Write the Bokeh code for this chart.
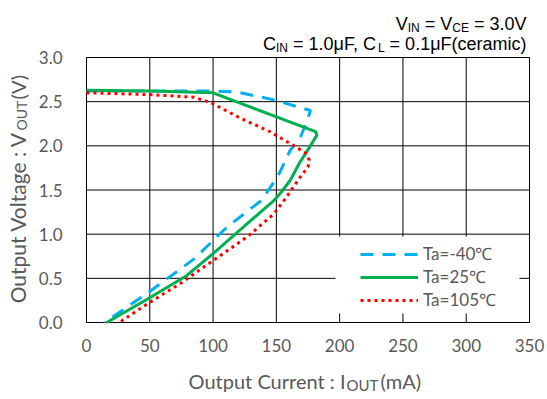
import math
from bokeh.plotting import figure
from bokeh.models import Range1d, FixedTicker, Label, BoxAnnotation
from bokeh.embed import file_html
from bokeh.resources import INLINE

# ---------------- data ----------------
x_ticks = [0, 50, 100, 150, 200, 250, 300, 350]
y_ticks = [0.0, 0.5, 1.0, 1.5, 2.0, 2.5, 3.0]
series_labels = ["Ta=-40\u2103", "Ta=25\u2103", "Ta=105\u2103"]

iout_m40 = [0, 50, 100, 119, 148, 177, 174, 169, 161, 151, 138, 111, 85, 48, 14]
vout_m40 = [2.62, 2.62, 2.62, 2.61, 2.52, 2.40, 2.27, 2.10, 1.95, 1.65, 1.38, 1.08, 0.72, 0.33, 0.0]

iout_25 = [0, 50, 100, 181, 182, 176, 168, 161, 153, 148, 127, 100, 79, 50, 16]
vout_25 = [2.63, 2.62, 2.60, 2.16, 2.12, 1.98, 1.80, 1.61, 1.46, 1.38, 1.12, 0.78, 0.53, 0.28, 0.0]

iout_105 = [0, 50, 85, 98, 122, 145, 164, 173, 176, 175, 169, 158, 148, 127, 100, 74, 48, 26]
vout_105 = [2.60, 2.58, 2.55, 2.49, 2.31, 2.16, 2.00, 1.92, 1.84, 1.76, 1.65, 1.42, 1.23, 0.97, 0.70, 0.44, 0.21, 0.0]

title_line1 = [("V", False), ("IN", True), (" = V", False), ("CE", True), (" = 3.0V", False)]
title_line2 = [("C", False), ("IN", True), (" = 1.0\u03bcF, C", False), ("L", True),
               (" = 0.1\u03bcF(ceramic)", False)]

# ---------------- layout constants (canvas pixels) ----------------
W, H = 547, 399
FL, FR, FT, FB = 86, 529, 57, 322   # edges of the chart area
TICK_FONT = "Lato"
TITLE_FONT = "Liberation Sans"
GRAY = "#595959"

x0, x1 = x_ticks[0], x_ticks[-1]
y0, y1 = y_ticks[0], y_ticks[-1]
kx = (FR - FL) / (x1 - x0)   # px per data unit
ky = (FB - FT) / (y1 - y0)
x_range = Range1d(x0 - FL / kx, x1 + (W - FR) / kx)
y_range = Range1d(y0 - (H - FB) / ky, y1 + FT / ky)

# frame covers the whole canvas so that every text can live inside it
p = figure(width=W, height=H, x_range=x_range, y_range=y_range,
           output_backend="svg", toolbar_location=None,
           min_border=0, min_border_left=0, min_border_right=0,
           min_border_top=0, min_border_bottom=0)
p.title.visible = False
p.background_fill_color = "white"
p.border_fill_color = "white"
p.outline_line_color = None
p.grid.visible = False

p.xaxis.ticker = FixedTicker(ticks=x_ticks)
p.yaxis.ticker = FixedTicker(ticks=y_ticks)
p.xaxis.fixed_location = y0
p.yaxis.fixed_location = x0
p.xaxis.bounds = (x0, x1)
p.yaxis.bounds = (y0, y1)
p.yaxis.major_label_overrides = {v: f"{v:.1f}" for v in y_ticks}
p.xaxis.major_label_overrides = {v: f"{v}" for v in x_ticks}
for ax in (p.xaxis, p.yaxis):
    ax.axis_line_color = None
    ax.major_tick_line_color = None
    ax.minor_tick_line_color = None
    ax.major_tick_in = 0
    ax.major_tick_out = 0
    ax.major_label_text_font = TICK_FONT
    ax.major_label_text_font_size = "17px"
    ax.major_label_text_color = GRAY
p.yaxis.major_label_standoff = 24
p.xaxis.major_label_standoff = 16

# grid lines (also form the chart border), taken from the tick arrays
p.segment(x0=x_ticks, y0=[y0] * len(x_ticks), x1=x_ticks, y1=[y1] * len(x_ticks),
          line_color="black", line_width=1)
p.segment(x0=[x0] * len(y_ticks), y0=y_ticks, x1=[x1] * len(y_ticks), y1=y_ticks,
          line_color="black", line_width=1)

# legend background box (white, hides grid)
p.add_layout(BoxAnnotation(left=335, right=519, top=H - 236, bottom=H - 313,
                           left_units="screen", right_units="screen",
                           top_units="screen", bottom_units="screen",
                           fill_color="white", fill_alpha=1, line_alpha=0))

p.line(iout_m40, vout_m40, line_color="#00B0F0", line_width=3, line_dash="13 9",
       legend_label=series_labels[0])
p.line(iout_25, vout_25, line_color="#00B050", line_width=3, line_join="round",
       legend_label=series_labels[1])
p.line(iout_105, vout_105, line_color="#FF0000", line_width=3, line_dash="3 4",
       legend_label=series_labels[2])

lg = p.legend[0]
lg.location = (360, H - 311)
lg.padding = 0
lg.margin = 0
lg.spacing = 0
lg.glyph_width = 58
lg.glyph_height = 20
lg.label_height = 20
lg.label_standoff = 5
lg.background_fill_alpha = 0
lg.border_line_alpha = 0
lg.label_text_font = TICK_FONT
lg.label_text_font_size = "17px"
lg.label_text_color = GRAY


def put(text, X, Y, size, font, color, angle=0.0, align="left"):
    """Place text with its anchor on the alphabetic baseline at canvas pixel (X, Y)."""
    p.add_layout(Label(x=X, y=H - Y, x_units="screen", y_units="screen",
                       text=text, text_font=font, text_font_size=size,
                       text_color=color, text_align=align,
                       text_baseline="alphabetic", angle=angle))


# Arial / Liberation Sans advance widths (1/1000 em) for chaining title pieces
ARIAL = {' ': 278, '=': 584, '.': 278, ',': 278, 'V': 667, 'I': 278, 'N': 722, 'C': 722,
         'E': 667, 'L': 556, 'F': 611, '\u03bc': 576, '(': 333, ')': 333, 'c': 500,
         'e': 556, 'r': 333, 'a': 556, 'm': 833, 'i': 222}


def aw(t, size):
    return sum(ARIAL.get(ch, 556) for ch in t) * size / 1000.0


def title_line(pieces, right, base, size=18, sub_size=12, sub_drop=4):
    total = sum(aw(t, sub_size if s else size) for t, s in pieces)
    x = right - total
    for t, s in pieces:
        sz = sub_size if s else size
        lead = len(t) - len(t.lstrip(" "))
        x += aw(" " * lead, sz)
        body = t.lstrip(" ")
        put(body, x, base + (sub_drop if s else 0), f"{sz}px", TITLE_FONT, "black")
        x += aw(body, sz)


title_line(title_line1, 526, 23.5)
title_line(title_line2, 526, 43.5)

# x axis label
put("Output Current : I", 345, 380, "20px", TICK_FONT, GRAY, align="right")
put("OUT", 346, 384, "15px", TICK_FONT, GRAY)
put("(mA)", 380, 380, "20px", TICK_FONT, GRAY)

# y axis label (rotated, reading bottom to top)
A = math.pi / 2
put("Output Voltage : V", 17, 131, "21px", TICK_FONT, GRAY, A, align="right")
put("OUT", 21, 130, "14px", TICK_FONT, GRAY, A)
put("(V)", 17, 99, "20px", TICK_FONT, GRAY, A)

open("out.html", "w").write(file_html(p, INLINE))
